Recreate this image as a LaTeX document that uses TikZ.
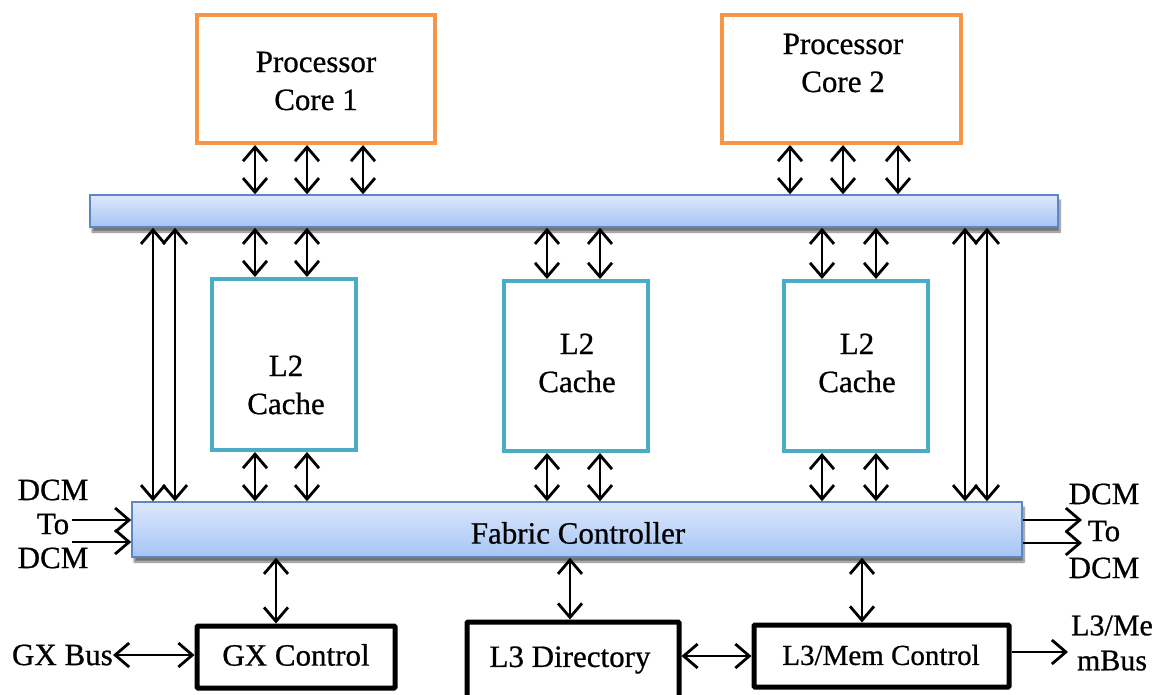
\documentclass[tikz,border=0pt]{standalone}
\usepackage{fontspec}
\setmainfont{Liberation Serif}[FakeBold=0.7]
\usetikzlibrary{arrows.meta,shadows.blur}
\definecolor{coreorange}{HTML}{F79646}
\definecolor{cacheteal}{HTML}{4BACC6}
\definecolor{busedge}{HTML}{5B87C5}
\definecolor{bustop}{HTML}{DDE8FC}
\definecolor{busbottom}{HTML}{A6C4F5}
\begin{document}
\begin{tikzpicture}[x=1pt,y=-1pt,
  >={Straight Barb[length=14pt,width=24pt]},
  txt/.style={font=\fontsize{31}{38}\selectfont, align=center, inner sep=0pt},
  core/.style={draw=coreorange, line width=4pt, inner sep=0pt},
  cache/.style={draw=cacheteal, line width=4pt, inner sep=0pt},
  ctrl/.style={draw=black, line width=5pt, inner sep=0pt, rounded corners=1pt},
  bus/.style={draw=busedge, line width=1.5pt, top color=bustop, bottom color=busbottom,
    inner sep=0pt, blur shadow={shadow xshift=2pt, shadow yshift=-5pt,
    shadow blur steps=8, shadow opacity=55}},
  link/.style={line width=2.8pt, <->},
  oneway/.style={line width=2.8pt, ->}]
\useasboundingbox (0,0) rectangle (1169,694);

% processor cores
\node[core, minimum width=238pt, minimum height=128pt] (c1) at (316,79) {};
\node[core, minimum width=239pt, minimum height=128pt] (c2) at (841.5,79) {};
\node[txt] (c1t) at (316,81) {Processor\\Core 1};
\node[txt] (c2t) at (843,63) {Processor\\Core 2};

% buses
\node[bus, minimum width=968pt, minimum height=32pt] (tbus) at (574,211) {};
\node[bus, minimum width=890pt, minimum height=55pt] (fab) at (577,529.5) {};
\node[txt] (fabt) at (578,533) {Fabric Controller};

% L2 caches
\node[cache, minimum width=144pt, minimum height=171pt] (l2a) at (284,364.5) {};
\node[cache, minimum width=144pt, minimum height=170pt] (l2b) at (576,366) {};
\node[cache, minimum width=144pt, minimum height=170pt] (l2c) at (856,366) {};
\node[txt] (l2at) at (286,385) {L2\\Cache};
\node[txt] (l2bt) at (577,363) {L2\\Cache};
\node[txt] (l2ct) at (857,363) {L2\\Cache};

% controllers
\node[ctrl, minimum width=198pt, minimum height=62pt] (gx) at (296,657) {};
\node[ctrl, minimum width=212pt, minimum height=88pt] (l3d) at (573,666) {};
\node[ctrl, minimum width=255pt, minimum height=62pt] (l3m) at (881.5,656) {};
\node[txt] (gxt) at (296,655) {GX Control};
\node[txt] (l3dt) at (570,660) {L3 Directory};
\node[txt, font=\fontsize{29}{34}\selectfont] (l3mt) at (881,655) {L3/Mem Control};

% outside labels
\node[txt, font=\fontsize{31}{34}\selectfont] (dcmL) at (53,524) {DCM\\To\\DCM};
\node[txt, font=\fontsize{31}{37}\selectfont] (dcmR) at (1104,531) {DCM\\To\\DCM};
\node[txt, anchor=east] (gxbus) at (113,655) {GX Bus};
\node[txt, font=\fontsize{30}{35}\selectfont] (membus) at (1112,643) {L3/Me\\mBus};

% columns for vertical links
\foreach \x in {153,175,255,276,307,363,547,570,600,790,822,843,862,876,898,965,987}
  \coordinate (v\x) at (\x,0);
\coordinate (dl1) at (72,520);
\coordinate (dl2) at (72,542);
\coordinate (dr1) at (1082,520);
\coordinate (dr2) at (1082,543);
\coordinate (mb) at (1068,652);

% cores to upper bus
\foreach \x in {255,307,363}
  \draw[link] (c1.south -| v\x) -- (tbus.north -| v\x);
\foreach \x in {790,843,898}
  \draw[link] (c2.south -| v\x) -- (tbus.north -| v\x);

% upper bus to caches, caches to fabric controller
\foreach \x in {255,307} {
  \draw[link] (tbus.south -| v\x) -- (l2a.north -| v\x);
  \draw[link] (l2a.south -| v\x) -- (fab.north -| v\x);
}
\foreach \x in {547,600} {
  \draw[link] (tbus.south -| v\x) -- (l2b.north -| v\x);
  \draw[link] (l2b.south -| v\x) -- (fab.north -| v\x);
}
\foreach \x in {822,876} {
  \draw[link] (tbus.south -| v\x) -- (l2c.north -| v\x);
  \draw[link] (l2c.south -| v\x) -- (fab.north -| v\x);
}

% direct links between the buses
\foreach \x in {153,175,965,987}
  \draw[link] (tbus.south -| v\x) -- (fab.north -| v\x);

% fabric controller to controllers
\draw[link] (fab.south -| v276) -- (gx.north -| v276);
\draw[link] (fab.south -| v570) -- (l3d.north -| v570);
\draw[link] (fab.south -| v862) -- (l3m.north -| v862);

% DCM links
\draw[oneway] (dl1) -- (fab.west |- dl1);
\draw[oneway] (dl2) -- (fab.west |- dl2);
\draw[oneway] (fab.east |- dr1) -- (dr1);
\draw[oneway] (fab.east |- dr2) -- (dr2);

% bottom row links
\draw[link] (gxbus.east) -- (gx.west |- gxbus.east);
\draw[link] (l3m.west -| l3d.east) -- (l3m.west);
\draw[oneway] (l3m.east |- mb) -- (mb);
\end{tikzpicture}
\end{document}
